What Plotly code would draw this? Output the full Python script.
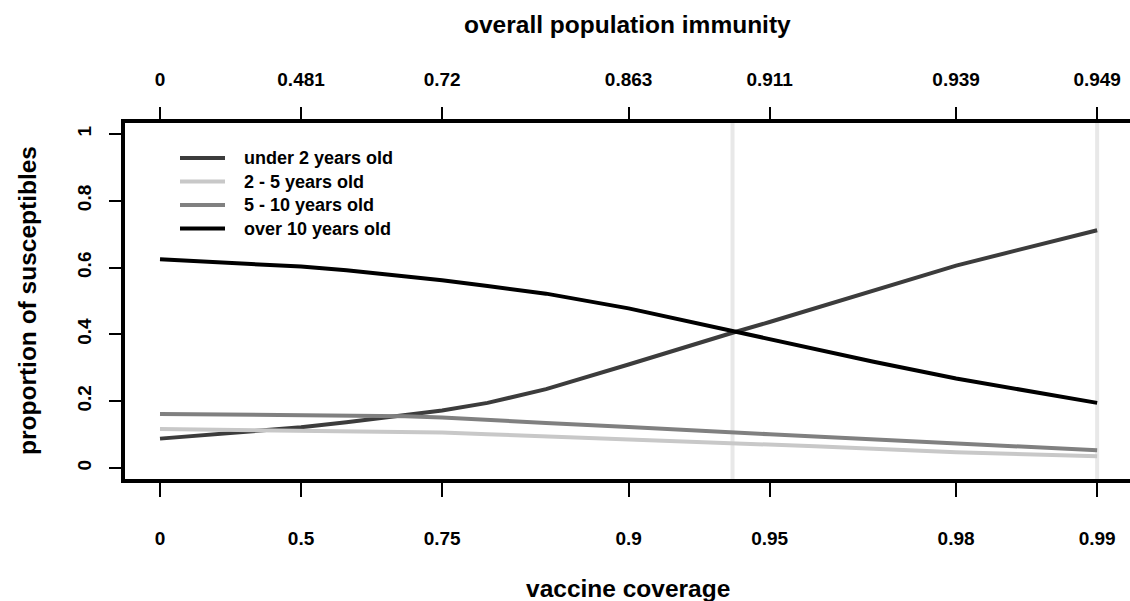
import plotly.graph_objects as go

# ---------------- data ----------------
coverage = [0, 0.5, 0.6, 0.7, 0.75, 0.8, 0.85, 0.9, 0.92, 0.94, 0.95, 0.96, 0.97, 0.98, 0.99]
under_2 = [0.088, 0.122, 0.137, 0.157, 0.172, 0.195, 0.236, 0.310, 0.352, 0.405, 0.437, 0.478, 0.532, 0.606, 0.712]
age_2_5 = [0.117, 0.113, 0.111, 0.109, 0.106, 0.101, 0.095, 0.085, 0.080, 0.074, 0.070, 0.065, 0.058, 0.047, 0.035]
age_5_10 = [0.162, 0.159, 0.158, 0.155, 0.151, 0.145, 0.135, 0.123, 0.115, 0.106, 0.101, 0.094, 0.085, 0.072, 0.053]
over_10 = [0.625, 0.603, 0.592, 0.575, 0.562, 0.545, 0.522, 0.478, 0.448, 0.410, 0.386, 0.356, 0.318, 0.268, 0.195]

series_names = ["under 2 years old", "2 - 5 years old", "5 - 10 years old", "over 10 years old"]
series_values = [under_2, age_2_5, age_5_10, over_10]
series_colors = ["#3c3c3c", "#c8c8c8", "#808080", "#000000"]

tick_coverage = [0, 0.5, 0.75, 0.9, 0.95, 0.98, 0.99]
tick_coverage_labels = ["0", "0.5", "0.75", "0.9", "0.95", "0.98", "0.99"]
tick_immunity_labels = ["0", "0.481", "0.72", "0.863", "0.911", "0.939", "0.949"]
y_ticks = [0, 0.2, 0.4, 0.6, 0.8, 1]
y_tick_labels = ["0", "0.2", "0.4", "0.6", "0.8", "1"]
ref_coverage = [0.94, 0.99]

# ---------------- layout constants ----------------
W, H = 1130, 601
ML, MR, MT, MB = 125, 0, 123, 122
X_RANGE = [0.0747, -2.0701]   # log10(1 - coverage), reversed
Y_RANGE = [-0.0329, 1.0329]
FONT = "Liberation Sans, Arial, sans-serif"

def px_x(px):
    return (px - ML) / (W - ML - MR)

def px_y(py):
    return (H - MB - py) / (H - MT - MB)

def uncov(c):
    return 1 - c

fig = go.Figure()

# reference vertical lines (behind curves)
for c in ref_coverage:
    fig.add_trace(go.Scatter(
        x=[uncov(c), uncov(c)], y=Y_RANGE, mode="lines",
        line=dict(color="#e8e8e8", width=4), showlegend=False, hoverinfo="skip"))

for name, vals, col in zip(series_names, series_values, series_colors):
    fig.add_trace(go.Scatter(
        x=[uncov(c) for c in coverage], y=vals, mode="lines", name=name,
        line=dict(color=col, width=4), showlegend=False))

# dummy trace to anchor the top axis
fig.add_trace(go.Scatter(
    x=[uncov(c) for c in tick_coverage], y=[0.5] * len(tick_coverage),
    xaxis="x2", mode="markers", marker=dict(opacity=0), showlegend=False, hoverinfo="skip"))

tickfont = dict(family=FONT, size=19, color="#000000", weight="bold")

fig.update_layout(
    width=W, height=H,
    margin=dict(l=ML, r=MR, t=MT, b=MB, pad=0),
    paper_bgcolor="white", plot_bgcolor="white",
    xaxis=dict(
        type="log", range=X_RANGE, showgrid=False, zeroline=False,
        tickmode="array", tickvals=[uncov(c) for c in tick_coverage], ticktext=tick_coverage_labels,
        ticks="outside", ticklen=14, tickwidth=1.5, tickcolor="#000000",
        ticklabelstandoff=25, tickfont=tickfont,
        showline=True, linewidth=4, linecolor="#000000"),
    xaxis2=dict(
        type="log", range=X_RANGE, overlaying="x", side="top", showgrid=False, zeroline=False,
        tickmode="array", tickvals=[uncov(c) for c in tick_coverage], ticktext=tick_immunity_labels,
        ticks="outside", ticklen=12, tickwidth=1.5, tickcolor="#000000",
        ticklabelstandoff=13, tickfont=tickfont,
        showline=True, linewidth=4, linecolor="#000000"),
    yaxis=dict(
        range=Y_RANGE, showgrid=False, zeroline=False,
        tickmode="array", tickvals=y_ticks, ticktext=y_tick_labels,
        ticks="outside", ticklen=12, tickwidth=1.5, tickcolor="#000000",
        tickangle=-90, ticklabelstandoff=10, tickfont=tickfont,
        showline=True, linewidth=4, linecolor="#000000"),
    showlegend=False,
)

titlefont = dict(family=FONT, size=24.5, color="#000000", weight="bold")
annotations = [
    dict(text="overall population immunity", x=px_x(627), y=px_y(24), xref="paper", yref="paper",
         xanchor="center", yanchor="middle", showarrow=False, font=titlefont),
    dict(text="vaccine coverage", x=px_x(628), y=px_y(588), xref="paper", yref="paper",
         xanchor="center", yanchor="middle", showarrow=False, font=titlefont),
    dict(text="proportion of susceptibles", x=px_x(27), y=px_y(301), xref="paper", yref="paper",
         xanchor="center", yanchor="middle", showarrow=False, textangle=-90, font=titlefont),
]

# manual legend
legend_rows = [158, 181.5, 205, 228.5]
shapes = []
legendfont = dict(family=FONT, size=18, color="#000000", weight="bold")
for name, col, ry in zip(series_names, series_colors, legend_rows):
    shapes.append(dict(type="line", xref="paper", yref="paper",
                       x0=px_x(180), x1=px_x(225), y0=px_y(ry), y1=px_y(ry),
                       line=dict(color=col, width=4)))
    annotations.append(dict(text=name, x=px_x(242), y=px_y(ry), xref="paper", yref="paper",
                            xanchor="left", yanchor="middle", showarrow=False, font=legendfont))

fig.update_layout(annotations=annotations, shapes=shapes)

fig.write_html("out.html")
